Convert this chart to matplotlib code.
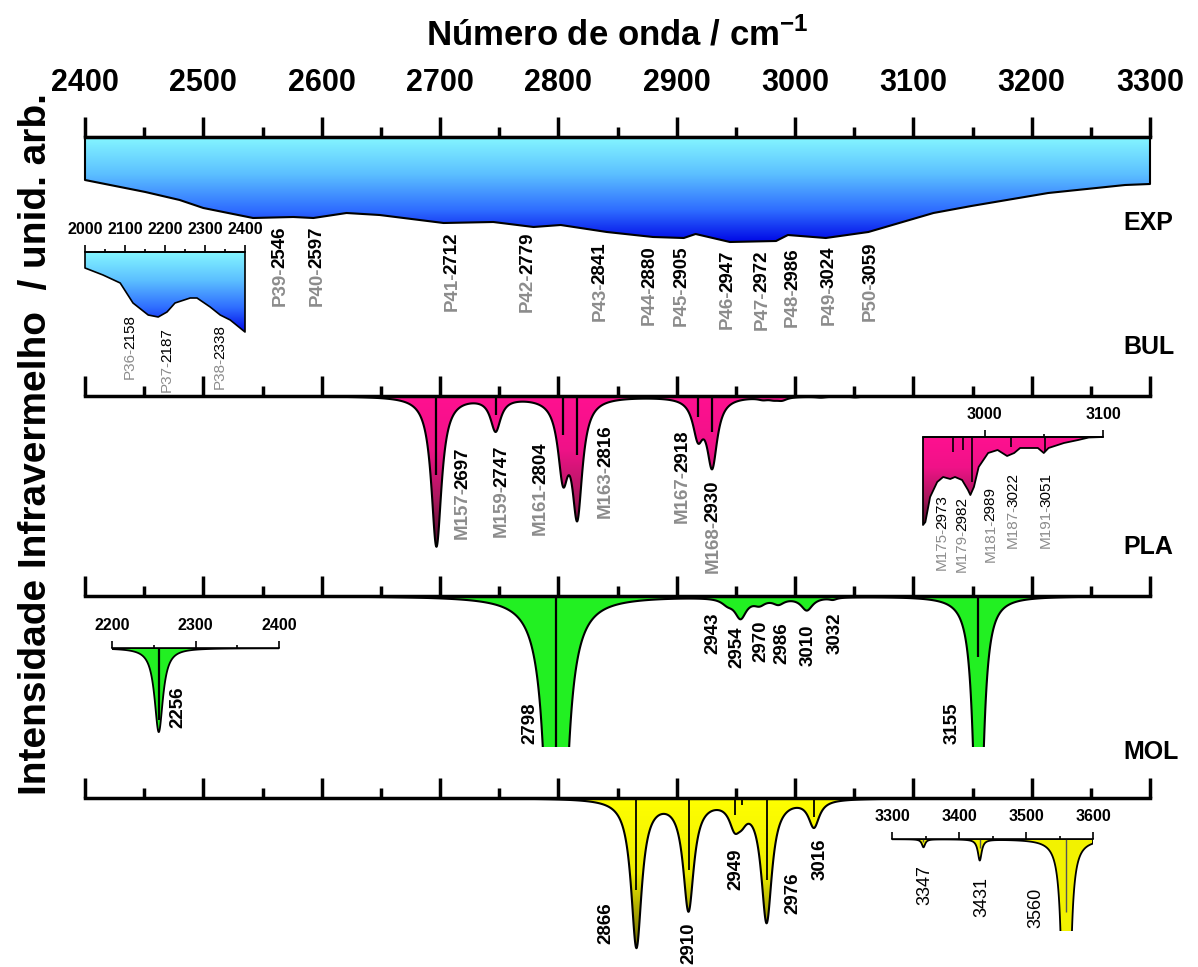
import numpy as np
import matplotlib.pyplot as plt
from matplotlib.colors import LinearSegmentedColormap
from matplotlib.patches import Polygon

plt.rcParams['font.family'] = ['Liberation Sans', 'DejaVu Sans']
plt.rcParams['font.weight'] = 'bold'
plt.rcParams['mathtext.fontset'] = 'custom'
plt.rcParams['mathtext.rm'] = 'Liberation Sans:bold'
plt.rcParams['mathtext.bf'] = 'Liberation Sans:bold'

# experimental envelope (wavenumber, absorbance drawn downwards)
exp_wn = [2400, 2451, 2480, 2500, 2542, 2576, 2593, 2621, 2649, 2703, 2745, 2779, 2802,
          2841, 2880, 2906, 2916, 2945, 2984, 2994, 3026, 3062, 3117, 3149, 3214, 3279, 3300]
exp_int = [43, 55, 63, 71, 81, 80, 81, 76, 78, 86, 85, 90, 88,
           95, 100, 101, 97, 105, 104, 98, 101, 95, 76, 69, 56, 48, 47]
exp_peaks = ['P39', 'P40', 'P41', 'P42', 'P43', 'P44', 'P45', 'P46', 'P47', 'P48', 'P49', 'P50']
exp_peak_wn = [2546, 2597, 2712, 2779, 2841, 2880, 2905, 2947, 2972, 2986, 3024, 3059]

exp_in_wn = [2000, 2045, 2088, 2120, 2158, 2183, 2205, 2225, 2263, 2280, 2313, 2338, 2363, 2400]
exp_in_int = [16, 23, 31, 51, 63, 65, 60, 51, 46, 46, 55, 63, 68, 80]
exp_in_peaks = ['P36', 'P37', 'P38']
exp_in_peak_wn = [2158, 2187, 2338]

# BUL: calculated modes (centre, intensity, stick height)
bul_modes = ['M157', 'M159', 'M161', 'M163', 'M167', 'M168', 'M175', 'M179', 'M181', 'M187', 'M191']
bul_wn = [2697, 2747, 2804, 2816, 2918, 2930, 2973, 2982, 2989, 3022, 3051]
bul_int = [150, 33, 72, 113, 36, 67, 2, 2, 3, 1, 1]
bul_stick = [79, 19, 39, 59, 21, 36, 15, 13, 45, 10, 15]
bul_fwhm = 10.5
# BUL 2950-3100 detail
bul_in_wn = [2948, 2950, 2954, 2960, 2965, 2971, 2975, 2981, 2986, 2988, 2991, 2995, 3003,
             3011, 3019, 3025, 3030, 3045, 3050, 3054, 3067, 3079, 3088, 3100]
bul_in_int = [88, 85, 60, 45, 40, 42, 40, 43, 53, 58, 50, 30, 16,
              13, 19, 16, 11, 11, 16, 11, 6, 3, 0.5, 0]

# PLA
pla_wn = [2256, 2798, 2943, 2954, 2970, 2986, 3010, 3032, 3155]
pla_int = [84, 900, 5, 20, 6, 6, 13, 2, 336]
pla_fwhm = [12.3, 10, 12, 12, 12, 12, 12, 8, 8.3]
pla_stick = [72, 160, 0, 0, 0, 0, 0, 0, 61]

# MOL
mol_wn = [2866, 2910, 2949, 2955, 2976, 3016, 3347, 3431, 3560]
mol_int = [148, 110, 22, 12, 122, 27, 8, 21, 1500]
mol_fwhm = [11, 11, 11, 11, 11, 11, 6, 7, 4.4]
mol_stick = [92, 72, 17, 7, 82, 19, 3, 9, 73]

main_major = list(range(2400, 3301, 100))
main_minor = list(range(2450, 3300, 100))

W, H = 1198, 967
fig = plt.figure(figsize=(W / 100, H / 100), dpi=100)

cm_exp = LinearSegmentedColormap.from_list('exp', [(0, '#84f6ff'), (0.35, '#5cc0ff'),
                                                   (0.7, '#2e6cff'), (1, '#0008e6')])
cm_bul = LinearSegmentedColormap.from_list('bul', [(0, '#ff1090'), (0.35, '#f01288'),
                                                   (0.7, '#a8185c'), (1, '#4a0c26')])
cm_mol = LinearSegmentedColormap.from_list('mol', [(0, '#ffff00'), (0.5, '#eeee00'),
                                                   (1, '#6a6400')])
GREEN = '#22f022'
GREY = '#8c8c8c'


def lorentz(x, centres, heights, fwhm):
    fwhm = np.broadcast_to(np.asarray(fwhm, float), (len(centres),))
    y = np.zeros_like(x)
    for c, h, w in zip(centres, heights, fwhm):
        y += h / (1 + (2 * (x - c) / w) ** 2)
    return y


def px_axes(left, top, width, height):
    return fig.add_axes([left / W, 1 - (top + height) / H, width / W, height / H])


def hanging_axes(left, top, width, height, xlim, major, minor, lw, lmaj, lmin,
                 labelsize=None, pad=4):
    ax = px_axes(left, top, width, height)
    ax.set_xlim(xlim)
    ax.set_ylim(height, 0)
    ax.patch.set_visible(False)
    for side in ('left', 'right', 'bottom'):
        ax.spines[side].set_visible(False)
    ax.spines['top'].set_linewidth(lw)
    ax.spines['top'].set_zorder(4)
    ax.set_yticks([])
    ax.set_xticks(major)
    ax.set_xticks(minor, minor=True)
    ax.tick_params(axis='x', which='both', top=True, bottom=False, labelbottom=False,
                   labeltop=labelsize is not None, direction='out', width=lw)
    ax.tick_params(axis='x', which='major', length=lmaj, pad=pad, labelsize=labelsize or 10)
    ax.tick_params(axis='x', which='minor', length=lmin)
    return ax


def shade(ax, x, depth, fill, dmax, lw=1.5, clip=True):
    xl, yl = ax.get_xlim(), ax.get_ylim()
    x = np.asarray(x, float)
    depth = np.asarray(depth, float)
    verts = np.column_stack([np.r_[x[0], x, x[-1]], np.r_[0, depth, 0]])
    outline = Polygon(verts, closed=True, facecolor='none', edgecolor='k', lw=lw,
                      joinstyle='round', zorder=2, clip_on=clip)
    ax.add_patch(outline)
    if isinstance(fill, str):
        outline.set_facecolor(fill)
    else:
        img = ax.imshow(np.linspace(0, 1, 256)[:, None], cmap=fill, aspect='auto',
                        extent=[x[0], x[-1], dmax, 0], interpolation='bilinear', zorder=1)
        img.set_clip_path(outline)
    ax.set_xlim(xl)
    ax.set_ylim(yl)


def tag(ax, x, top, num, prefix=None, size=13.5, weight='bold'):
    t = ax.text(x, top, str(num), rotation=90, ha='center', va='top', fontsize=size,
                fontweight=weight, color='k', clip_on=False, zorder=6)
    if prefix:
        ax.annotate(prefix + '-', xy=(0.5, 0), xycoords=t, xytext=(0, 1.5),
                    textcoords='offset points', rotation=90, ha='center',
                    va='top', fontsize=size, fontweight=weight, color=GREY,
                    annotation_clip=False, zorder=6)


def sticks(ax, pos, length, lw=1.6, color='k'):
    pos = np.asarray(pos, float)
    length = np.asarray(length, float)
    keep = length > 0
    ax.vlines(pos[keep], 0, length[keep], colors=color, lw=lw, zorder=3)


# ---------------- EXP ----------------
ax = hanging_axes(85, 137, 1065, 150, (2400, 3300), main_major, main_minor,
                  2.5, 14.4, 7.2, labelsize=22, pad=14)
shade(ax, exp_wn, exp_int, cm_exp, 105, clip=False)
exp_label_x = [2565, 2596, 2710, 2774, 2835, 2877, 2904, 2943, 2972, 2998, 3029, 3064]
exp_label_top = [90, 90, 95, 96, 105, 109, 110, 113, 114, 111, 109, 105]
for name, wn, lx, lt in zip(exp_peaks, exp_peak_wn, exp_label_x, exp_label_top):
    tag(ax, lx, lt, wn, name)

ax = hanging_axes(85, 252, 160, 90, (2000, 2400), list(range(2000, 2401, 100)),
                  list(range(2050, 2400, 100)), 1.2, 5, 2.5, labelsize=11.5, pad=6)
shade(ax, exp_in_wn, exp_in_int, cm_exp, 80, lw=1.2, clip=False)
for name, wn, lx, lt in zip(exp_in_peaks, exp_in_peak_wn, [2112, 2205, 2337], [63, 76, 73]):
    tag(ax, lx, lt, wn, name, size=11, weight='normal')

# ---------------- BUL ----------------
ax = hanging_axes(85, 396, 1065, 200, (2400, 3300), main_major, main_minor, 2.5, 14.4, 7.2)
grid = np.linspace(2400, 3300, 4000)
shade(ax, grid, lorentz(grid, bul_wn, bul_int, bul_fwhm), cm_bul, 150)
sticks(ax, bul_wn[:6], bul_stick[:6])
bul_label_x = [2719, 2752, 2785, 2840, 2905, 2931]
bul_label_top = [51, 49, 46, 29, 34, 84]
for name, wn, lx, lt in zip(bul_modes[:6], bul_wn[:6], bul_label_x, bul_label_top):
    tag(ax, lx, lt, wn, name)

ax = hanging_axes(923, 437, 180, 100, (2948, 3100), [3000, 3100], [3050],
                  1.2, 5, 2.5, labelsize=11.5, pad=6)
shade(ax, bul_in_wn, bul_in_int, cm_bul, 88, lw=1.3, clip=False)
sticks(ax, bul_wn[6:], bul_stick[6:], lw=1.2)
for name, wn, lx, lt in zip(bul_modes[6:], bul_wn[6:], [2964, 2981, 3005, 3024, 3052],
                            [58, 60, 50, 36, 36]):
    tag(ax, lx, lt, wn, name, size=11, weight='normal')

# ---------------- PLA ----------------
ax = hanging_axes(85, 596, 1065, 151, (2400, 3300), main_major, main_minor, 2.5, 14.4, 7.2)
shade(ax, grid, lorentz(grid, pla_wn, pla_int, pla_fwhm), GREEN, 151)
sticks(ax, pla_wn[1:], pla_stick[1:])
pla_label_x = [2776, 2931, 2951, 2971, 2989, 3011, 3034, 3133]
pla_label_top = [106, 16, 31, 24, 26, 29, 17, 106]
for wn, lx, lt in zip(pla_wn[1:], pla_label_x, pla_label_top):
    tag(ax, lx, lt, wn)

ax = hanging_axes(112, 648, 167, 90, (2200, 2400), [2200, 2300, 2400], [2250, 2350],
                  1.2, 5, 2.5, labelsize=11.5, pad=6)
g2 = np.linspace(2200, 2400, 1500)
shade(ax, g2, lorentz(g2, pla_wn, pla_int, pla_fwhm), GREEN, 90, lw=1.3)
sticks(ax, pla_wn[:1], pla_stick[:1])
tag(ax, 2279, 39, pla_wn[0])

# ---------------- MOL ----------------
ax = hanging_axes(85, 798, 1065, 169, (2400, 3300), main_major, main_minor, 2.5, 14.4, 7.2)
shade(ax, grid, lorentz(grid, mol_wn, mol_int, mol_fwhm), cm_mol, 150)
sticks(ax, mol_wn[:6], mol_stick[:6], lw=1.3)
mol_label_x = [2840, 2910, 2950, 2998, 3021]
mol_label_top = [104, 125, 50, 74, 40]
for wn, lx, lt in zip([2866, 2910, 2949, 2976, 3016], mol_label_x, mol_label_top):
    tag(ax, lx, lt, wn)

ax = hanging_axes(892, 839, 201, 92, (3300, 3600), list(range(3300, 3601, 100)),
                  [3350, 3450, 3550], 1.2, 5, 2.5, labelsize=11.5, pad=6)
g3 = np.linspace(3300, 3600, 3000)
shade(ax, g3, lorentz(g3, mol_wn, mol_int, mol_fwhm), '#f2f200', 92, lw=1.3)
sticks(ax, mol_wn[6:], mol_stick[6:], lw=1.0, color='#555555')
for wn, lx, lt in zip(mol_wn[6:], [3349, 3434, 3515], [26, 38, 49]):
    tag(ax, lx, lt, wn, size=13, weight='normal')

# ---------------- labels ----------------
for name, yc in zip(['EXP', 'BUL', 'PLA', 'MOL'], [223, 347, 547, 752]):
    fig.text(1123 / W, 1 - yc / H, name, fontsize=18, ha='left', va='center')

fig.text(617 / W, 1 - 35 / H, 'Número de onda / cm$^{-1}$', fontsize=25,
         ha='center', va='center')
fig.text(36 / W, 1 - 444 / H, 'Intensidade Infravermelho  / unid. arb.', fontsize=28,
         rotation=90, ha='center', va='center')

fig.savefig('out.png', dpi=100)
